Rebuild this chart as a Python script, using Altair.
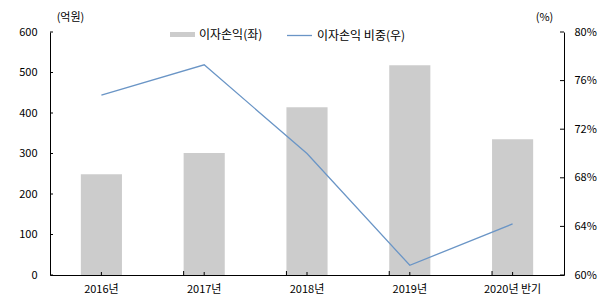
import altair as alt
import pandas as pd

categories = ["2016년", "2017년", "2018년", "2019년", "2020년 반기"]
interest_income = [249, 301, 414, 518, 335]          # 억원 (left axis)
interest_share = [74.8, 77.3, 70.0, 60.8, 64.2]       # % (right axis)
left_ticks = [0, 100, 200, 300, 400, 500, 600]
right_ticks = [60, 64, 68, 72, 76, 80]

bar_name = "이자손익(좌)"
line_name = "이자손익 비중(우)"

W, H = 514, 243
FONT = "Noto Sans CJK KR"

df = pd.DataFrame({"cat": categories, "income": interest_income, "share": interest_share,
                   "bar": bar_name, "line": line_name})
df_lt = pd.DataFrame({"v": left_ticks})
df_rt = pd.DataFrame({"v": right_ticks})
df_b = pd.DataFrame({"cat": categories[1:]})

xscale = alt.Scale(domain=categories, paddingInner=0.6, paddingOuter=0.3)
yl = alt.Scale(domain=[0, 600], nice=False)
yr = alt.Scale(domain=[60, 80], nice=False)

xaxis = alt.Axis(title=None, labelAngle=0, ticks=False, labelPadding=8, domainColor="black",
                 labelFont=FONT, labelFontSize=11, labelColor="black", grid=False)
ylaxis = alt.Axis(
    orient="left", title="(억원)", titleAngle=0, titleX=20, titleY=-15,
    titleAlign="center", titleBaseline="middle", titleFont=FONT, titleFontSize=11,
    titleFontWeight="normal", titleColor="black",
    values=left_ticks, ticks=False, labelPadding=13, labelFont=FONT, labelFontSize=11,
    labelColor="black", domainColor="black", grid=False)
yraxis = alt.Axis(
    orient="right", title="(%)", titleAngle=0, titleX=-20, titleY=-15,
    titleAlign="center", titleBaseline="middle", titleFont=FONT, titleFontSize=11,
    titleFontWeight="normal", titleColor="black",
    values=right_ticks, ticks=False, labelPadding=10, labelFont=FONT, labelFontSize=11,
    labelColor="black", domainColor="black", grid=False,
    labelExpr="datum.value + '%'")

X = alt.X("cat:N", scale=xscale, axis=xaxis, sort=categories)

bars = alt.Chart(df).mark_bar(color="#cccccc").encode(
    x=X,
    y=alt.Y("income:Q", scale=yl, axis=ylaxis),
    fill=alt.Fill("bar:N", scale=alt.Scale(domain=[bar_name], range=["#cccccc"]),
                  legend=alt.Legend(title=None, orient="none", legendX=120, legendY=-10,
                                    symbolType="M-1,-0.2L1,-0.2L1,0.2L-1,0.2Z", symbolSize=625,
                                    symbolStrokeWidth=0, labelFont=FONT, labelFontSize=12,
                                    labelColor="black", padding=0)),
)

lticks = alt.Chart(df_lt).mark_rule(color="black", strokeWidth=1).encode(
    y=alt.Y("v:Q", scale=yl, axis=ylaxis), x=alt.value(0), x2=alt.value(3))

xt_center = alt.Chart(df).mark_rule(color="black").encode(
    x=X, y=alt.value(H), y2=alt.value(H - 3))
xt_bound = alt.Chart(df_b).mark_rule(color="black").encode(
    x=alt.X("cat:N", scale=xscale, axis=xaxis, sort=categories, bandPosition=0),
    y=alt.value(H), y2=alt.value(H - 4))

left = alt.layer(bars, lticks, xt_center, xt_bound)

line = alt.Chart(df).mark_line(strokeWidth=1.3).encode(
    x=X,
    y=alt.Y("share:Q", scale=yr, axis=yraxis),
    stroke=alt.Stroke("line:N", scale=alt.Scale(domain=[line_name], range=["#6a95c6"]),
                      legend=alt.Legend(title=None, orient="none", legendX=236, legendY=-10,
                                        symbolType="stroke", symbolSize=625, symbolStrokeWidth=1.3,
                                        labelFont=FONT, labelFontSize=12, labelColor="black",
                                        padding=0)),
)

rticks = alt.Chart(df_rt).mark_rule(color="black", strokeWidth=1).encode(
    y=alt.Y("v:Q", scale=yr, axis=yraxis), x=alt.value(W), x2=alt.value(W - 4))

right = alt.layer(line, rticks)

chart = alt.layer(left, right).resolve_scale(y="independent", fill="independent", stroke="independent").properties(
    width=W, height=H,
    autosize=alt.AutoSizeParams(type="none"),
    padding={"left": 50, "top": 32, "right": 45, "bottom": 28},
    background="white",
).configure_view(stroke=None)

chart.save("out.html", embed_options={"renderer": "svg", "actions": False})
